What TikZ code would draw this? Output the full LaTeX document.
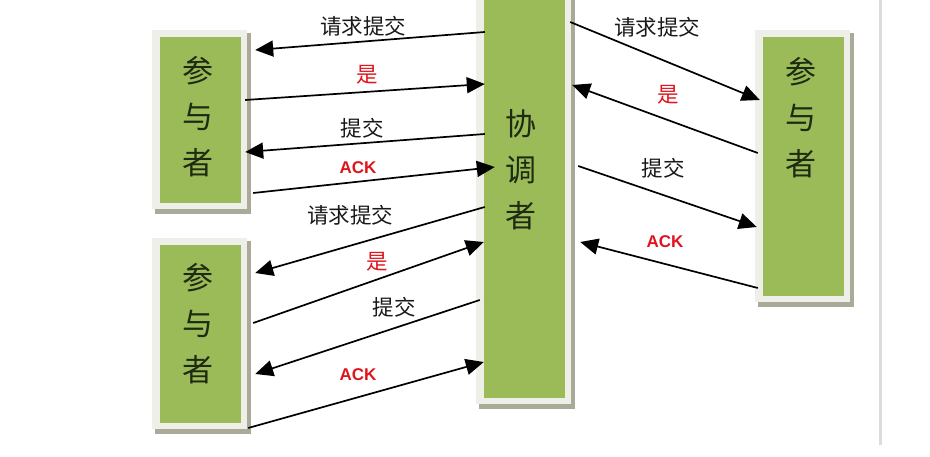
\documentclass[tikz,border=0pt]{standalone}
\usepackage{fontspec}
\setmainfont{Noto Sans CJK SC}
\newfontfamily\ackfont{Liberation Sans}
\usetikzlibrary{arrows.meta,calc}
\definecolor{boxgreen}{HTML}{9BBB59}
\definecolor{framelight}{HTML}{EFEFEA}
\definecolor{frameshadow}{HTML}{A9AB98}
\definecolor{boxtext}{HTML}{1E2B12}
\definecolor{lblred}{HTML}{E0141E}
\definecolor{pageline}{HTML}{DCDCDC}
\tikzset{
  gbox/.style={fill=boxgreen,draw=none,minimum width=81pt,inner sep=0pt},
  btext/.style={text=boxtext,font=\fontsize{31}{46}\selectfont,align=center,inner sep=0pt},
  arr/.style={line width=1.7pt,-{Triangle[length=18pt,width=16pt]}},
  lbl/.style={text=black!90,font=\fontsize{21.5}{24}\selectfont,inner sep=0pt},
  redlbl/.style={text=lblred,font=\fontsize{21.5}{24}\selectfont,inner sep=0pt},
  acklbl/.style={text=lblred,font=\ackfont\bfseries\fontsize{17}{20}\selectfont,inner sep=0pt},
}
\newcommand{\myboxframe}[1]{%
  \fill[frameshadow] ($(#1.north west)+(-5,-4)$) rectangle ($(#1.south east)+(10,11)$);
  \fill[framelight] ($(#1.north west)+(-8,-7)$) rectangle ($(#1.south east)+(6,6)$);
}
\begin{document}
\begin{tikzpicture}[x=1pt,y=-1pt]
\useasboundingbox (0,0) rectangle (930,457);
\fill[white] (0,0) rectangle (930,457);
% page edge line
\draw[pageline,line width=3pt] (880,0) -- (880,445);
% box centres
\path
  (200.5,120) coordinate (c1)
  (200.5,334) coordinate (c2)
  (524.5,197) coordinate (cc)
  (803.5,166.5) coordinate (c3);
\path (c1) node[minimum width=81pt,minimum height=166pt,inner sep=0pt] (f1) {}
      (c2) node[minimum width=81pt,minimum height=178pt,inner sep=0pt] (f2) {}
      (cc) node[minimum width=81pt,minimum height=402pt,inner sep=0pt] (fc) {}
      (c3) node[minimum width=81pt,minimum height=259pt,inner sep=0pt] (f3) {};
\myboxframe{f1}
\myboxframe{f2}
\myboxframe{fc}
\myboxframe{f3}
\node[gbox,minimum height=166pt] (g1) at (c1) {};
\node[gbox,minimum height=178pt] (g2) at (c2) {};
\node[gbox,minimum height=402pt] (gc) at (cc) {};
\node[gbox,minimum height=259pt] (g3) at (c3) {};
% box texts
\node[btext] (t1) at (198,117) {参\\与\\者};
\node[btext] (t2) at (198,324) {参\\与\\者};
\node[btext] (tc) at (521,170) {协\\调\\者};
\node[btext] (t3) at (801,118) {参\\与\\者};
% left upper arrows
\draw[arr] ($(gc.west |- 0,32)+(1,0)$) -- ($(g1.east |- 0,50)+(14,0)$);
\draw[arr] ($(g1.east |- 0,100)+(4,0)$) -- ($(gc.west |- 0,84)+(1,0)$);
\draw[arr] ($(gc.west |- 0,134)+(1,0)$) -- ($(g1.east |- 0,152)+(4,0)$);
\draw[arr] ($(g1.east |- 0,193)+(12,0)$) -- ($(gc.west |- 0,167)+(11,0)$);
% left lower arrows
\draw[arr] ($(gc.west |- 0,207)+(1,0)$) -- ($(g2.east |- 0,273)+(14,0)$);
\draw[arr] ($(g2.east |- 0,323)+(12,0)$) -- ($(gc.west |- 0,242)+(0,0)$);
\draw[arr] ($(gc.west |- 0,300)+(-4,0)$) -- ($(g2.east |- 0,374)+(14,0)$);
\draw[arr] ($(g2.east |- 0,428)+(7,0)$) -- ($(gc.west |- 0,362)+(0,0)$);
% right arrows
\draw[arr] ($(gc.east |- 0,22)+(5,0)$) -- ($(g3.west |- 0,100)+(-3,0)$);
\draw[arr] ($(g3.west |- 0,153)+(-5,0)$) -- ($(gc.east |- 0,85)+(7,0)$);
\draw[arr] ($(gc.east |- 0,166)+(13,0)$) -- ($(g3.west |- 0,227)+(-6,0)$);
\draw[arr] ($(g3.west |- 0,288)+(-5,0)$) -- ($(gc.east |- 0,242)+(15,0)$);
% labels left upper
\node[lbl] (l1) at (363,26) {请求提交};
\node[redlbl] (l2) at (367,75) {是};
\node[lbl] (l3) at (362,128) {提交};
\node[acklbl] (l4) at (358,168) {ACK};
% labels left lower
\node[lbl] (l5) at (350,215) {请求提交};
\node[redlbl] (l6) at (377,262) {是};
\node[lbl] (l7) at (394,307) {提交};
\node[acklbl] (l8) at (358,375) {ACK};
% labels right
\node[lbl] (l9) at (657,27) {请求提交};
\node[redlbl] (l10) at (668,95) {是};
\node[lbl] (l11) at (663,168) {提交};
\node[acklbl] (l12) at (665,242) {ACK};
\end{tikzpicture}
\end{document}
